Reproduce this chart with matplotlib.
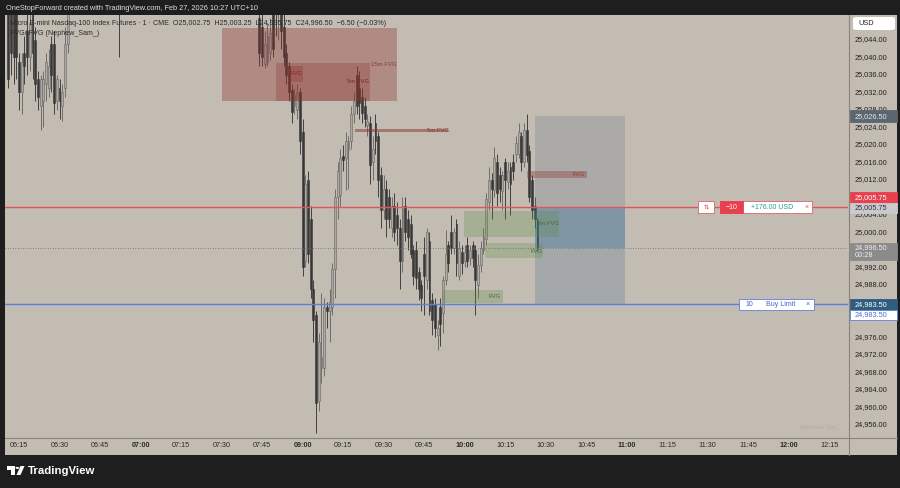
import numpy as np
import matplotlib
matplotlib.use("Agg")
import matplotlib.pyplot as plt
from matplotlib.patches import Rectangle, Polygon, Circle, FancyBboxPatch
from matplotlib.lines import Line2D

plt.rcParams['font.family'] = ['Liberation Sans', 'DejaVu Sans']

# ---------------- data (1-minute OHLC, MNQ) ----------------
first_bar_index = -4          # first bar is 06:11 (index 0 = 06:15)
seg_early = [
    (25058, 25062, 25033, 25035), (25052, 25056, 25036, 25041), (25055, 25058, 25034, 25040),
    (25050, 25054, 25035, 25040), (25039, 25041, 25028, 25032), (25032, 25041, 25027, 25039),
    (25041, 25045, 25034, 25038), (25046, 25050, 25036, 25040), (25040, 25055, 25037, 25048),
    (25051, 25056, 25035, 25041), (25044, 25047, 25030, 25034), (25035, 25037, 25028, 25031),
    (25029, 25036, 25023.5, 25035), (25030, 25037, 25024, 25035), (25034, 25041, 25030, 25039),
    (25033, 25042, 25031, 25038), (25043, 25045, 25032, 25036), (25043, 25046, 25027, 25029.5),
    (25030, 25036, 25028, 25035), (25033, 25035, 25026, 25030), (25029, 25034, 25025.5, 25032),
    (25033, 25047, 25031, 25043), (25043, 25056, 25041, 25052),
]
seg_high1 = [
    (25054, 25060, 25051, 25058), (25058, 25063, 25055, 25061), (25061, 25064, 25056, 25057),
    (25057, 25060, 25052, 25055), (25055, 25062, 25054, 25060), (25060, 25066, 25058, 25064),
    (25064, 25067, 25059, 25061), (25061, 25063, 25056, 25058), (25058, 25061, 25053, 25055),
    (25055, 25059, 25052, 25057), (25057, 25064, 25056, 25062), (25062, 25065, 25057, 25059),
    (25059, 25062, 25054, 25056), (25056, 25060, 25053, 25058), (25058, 25063, 25057, 25061),
    (25061, 25066, 25058, 25063), (25063, 25065, 25058, 25060), (25060, 25062, 25055, 25058),
    (25058, 25062, 25040, 25051),
]
seg_high2 = [
    (25052, 25057, 25051, 25056), (25056, 25061, 25054, 25059), (25059, 25063, 25057, 25062),
    (25062, 25066, 25059, 25060), (25060, 25064, 25058, 25063), (25063, 25068, 25061, 25066),
    (25066, 25069, 25062, 25064), (25064, 25067, 25060, 25061), (25061, 25065, 25059, 25064),
    (25064, 25070, 25063, 25068), (25068, 25072, 25065, 25067), (25067, 25071, 25064, 25070),
    (25070, 25074, 25067, 25069), (25069, 25072, 25065, 25066), (25066, 25069, 25062, 25064),
    (25064, 25068, 25061, 25067), (25067, 25070, 25063, 25065), (25065, 25068, 25061, 25062),
    (25062, 25066, 25059, 25065), (25065, 25069, 25063, 25068), (25068, 25071, 25064, 25066),
    (25066, 25068, 25061, 25063), (25063, 25067, 25060, 25066), (25066, 25070, 25064, 25069),
    (25069, 25073, 25066, 25071), (25071, 25075, 25068, 25070), (25070, 25073, 25066, 25067),
    (25067, 25070, 25063, 25065), (25065, 25069, 25062, 25068), (25068, 25072, 25065, 25070),
    (25070, 25074, 25067, 25072), (25072, 25075, 25068, 25069), (25069, 25072, 25065, 25066),
    (25066, 25070, 25063, 25068), (25068, 25071, 25064, 25065), (25065, 25068, 25061, 25063),
    (25063, 25067, 25060, 25066), (25066, 25069, 25062, 25064), (25064, 25067, 25060, 25062),
    (25062, 25066, 25059, 25065), (25065, 25068, 25061, 25063), (25063, 25066, 25058, 25060),
    (25060, 25064, 25057, 25062), (25062, 25065, 25058, 25059), (25059, 25063, 25056, 25061),
    (25061, 25064, 25057, 25058), (25058, 25062, 25055, 25060), (25060, 25063, 25056, 25057),
    (25057, 25061, 25054, 25059), (25059, 25062, 25055, 25056), (25056, 25060, 25052, 25053),
]
seg_pre = [
    (25049, 25054, 25038, 25041), (25047, 25052, 25038, 25040), (25038.5, 25046, 25037.5, 25043),
    (25039, 25048, 25038, 25045), (25041, 25049, 25039.5, 25045.5), (25052, 25055, 25040, 25042),
    (25056, 25060, 25045, 25050), (25050, 25058, 25044, 25056), (25053, 25056, 25042, 25046),
    (25047, 25050, 25038, 25040), (25041, 25043, 25034, 25036), (25038, 25039, 25030, 25032),
    (25032.5, 25034, 25025, 25027.5), (25029, 25033, 25027, 25031.5), (25028, 25034, 25026, 25032),
    (25032, 25033, 25018, 25021),
]
seg_open = [
    (25023, 25026, 24990, 24992), (24993.5, 25013, 24992, 25011), (25012, 25014, 24993, 24995),
    (25003, 25006, 24985, 24987), (24987, 24989, 24975, 24980), (24981, 24982, 24954, 24961),
    (24961.5, 24977, 24959, 24975), (24969, 24986, 24965.5, 24971.5), (24969, 24985, 24967, 24983),
    (24983, 24984, 24978, 24982), (24982, 24987, 24975, 24984), (24983, 24993, 24981, 24991.5),
    (24991.5, 25010, 24985, 25008), (25008, 25016, 25003, 25014), (25008.5, 25019, 25006, 25017),
    (25017.5, 25020, 25014, 25016.5), (25017, 25023, 25009.7, 25021), (25018.8, 25022, 25010, 25021),
    (25021, 25029, 25019, 25027), (25027, 25032, 25025, 25030), (25036, 25038, 25027, 25029),
    (25033, 25037, 25026, 25029.5), (25031, 25033, 25025, 25027.3), (25029, 25031, 25024, 25026),
    (25024.5, 25027, 25022, 25025.5), (25025, 25026.5, 25011, 25015.4), (25016, 25022, 25012, 25019),
    (25025, 25027, 25018, 25021), (25022, 25023, 25008, 25012), (25013, 25015, 25001, 25005),
]
seg_mid = [
    (25005, 25013, 25003, 25010), (25010, 25012, 24999, 25003), (25008, 25010, 25001, 25003),
    (25001, 25008, 24999, 25006), (25006, 25009, 24998, 25000), (25004, 25007, 24997, 25001),
    (25001, 25003, 24987, 24993.5), (24993.5, 25008, 24991, 25006), (25006, 25008, 24998, 25000),
    (25003, 25005, 24996, 24999), (25002, 25004, 24994, 24995), (24996, 24997, 24988, 24990),
    (24996, 24998, 24987, 24989.5), (24991, 24992, 24984.5, 24987), (24988, 24989, 24982, 24985),
    (24995, 24999, 24981, 24990), (24989, 25001, 24987, 25000), (24998, 25000, 24981, 24982),
    (24984.5, 24986, 24976.5, 24979.9), (24983.5, 24985, 24976, 24978), (24976.5, 24980, 24973, 24978),
    (24983, 24985, 24974, 24979), (24981.5, 24990, 24977, 24989), (24989, 25000.5, 24988, 24995),
    (24997, 24998, 24991, 24993), (25000, 25004, 24995, 24996.5), (24996.5, 25001, 24995, 25000),
    (25002, 25003, 24990, 24993), (24990, 24998, 24989, 24996.5), (24995.5, 24997, 24990.5, 24993),
    (24993.5, 24997, 24992, 24995.5), (24997, 24999, 24992, 24993.5), (24994, 24997, 24992.5, 24996),
    (24997, 24998, 24992, 24994), (24996, 24997, 24981, 24989),
]
seg_late = [
    (24988, 24995, 24985, 24992.5), (24992.5, 24998, 24991, 24996.5), (24996, 25001, 24995, 24999),
    (24998.5, 25009, 24997, 25007.5), (25007, 25015, 25005, 25012), (25012, 25013.5, 25003, 25010),
    (25009.7, 25019.5, 25008, 25017), (25016, 25018, 25006, 25009), (25013, 25015, 25007, 25010),
    (25009.5, 25014, 25005, 25013), (25016, 25017, 25003, 25012), (25011.5, 25016, 25010, 25014),
    (25015, 25016, 25004, 25011), (25016, 25018, 25012, 25014), (25018, 25022, 25016, 25020.5),
    (25018, 25025, 25017, 25023), (25022, 25023, 25014, 25016), (25016, 25025, 25015, 25023.5),
    (25023.5, 25027, 25016, 25017.7), (25018.5, 25020, 25007, 25008), (25012, 25013, 25003, 25005),
    (25006, 25008, 25001, 25003), (25002.75, 25003.25, 24995.75, 24996.5),
]

time_labels = ["06:15", "06:30", "06:45", "07:00", "07:15", "07:30", "07:45", "09:00", "09:15",
               "09:30", "09:45", "10:00", "10:15", "10:30", "10:45", "11:00", "11:15", "11:30",
               "11:45", "12:00", "12:15"]
bold_labels = ["07:00", "09:00", "10:00", "11:00", "12:00"]
# ticks that are not hidden behind the price tags
price_ticks = [25044, 25040, 25036, 25032, 25028, 25024, 25020, 25016, 25012, 25004,
               25000, 24992, 24988, 24976, 24972, 24968, 24964, 24960, 24956]

# zones: (start bar, end bar, top price, bottom price)
fvg_15m = (75.2, 140.0, 25046.7, 25030.0)
fvg_5m_red = (95.2, 130.0, 25038.7, 25030.0)
fvg_1m_red = (100.0, 105.2, 25038.0, 25034.4)
fvg_5m_thin = (124.4, 159.0, 25023.7, 25022.9)
fvg_1m_red2 = (188.1, 210.4, 25014.0, 25012.4)
fvg_5m_green = (164.8, 200.0, 25004.9, 24998.9)
fvg_1m_green1 = (172.6, 194.1, 24997.5, 24994.1)
fvg_1m_green2 = (157.0, 179.3, 24986.8, 24983.8)
pos_box = (191.1, 224.4)
target_price = 25026.50
short_price = 25005.75
last_price = 24996.50
limit_price = 24983.50

# ---------------- figure ----------------
W, H = 900, 488
fig = plt.figure(figsize=(9, 4.88), dpi=100)
fig.patch.set_facecolor('#1e1e1e')
BG = '#c3bcb2'

def fx(x):
    return x / W

def fy(y):
    return 1 - y / H

fig.add_artist(Rectangle((fx(5), fy(455)), (897 - 5) / W, (455 - 15) / H,
                         transform=fig.transFigure, facecolor=BG, edgecolor='none', zorder=0))

ax = fig.add_axes([fx(5), fy(437), (848 - 5) / W, (437 - 15) / H])
ax.set_facecolor(BG)
ax.set_xlim(-5.2, 307)
ax.set_ylim(24953.15, 25049.72)
for s in ax.spines.values():
    s.set_visible(False)
ax.set_xticks([])
ax.set_yticks([])

# separators
fig.add_artist(Line2D([fx(848.5), fx(848.5)], [fy(15), fy(455)], transform=fig.transFigure,
                      color='#8a847d', lw=0.8, zorder=5))
fig.add_artist(Line2D([fx(5), fx(897)], [fy(437.5), fy(437.5)], transform=fig.transFigure,
                      color='#8a847d', lw=0.8, zorder=5))

# candles
bars = np.array(seg_early + seg_high1 + seg_high2 + seg_pre + seg_open + seg_mid + seg_late, float)
o, h, l, c = bars.T
xs = np.arange(len(bars)) + first_bar_index
up = c >= o
bot = np.minimum(o, c)
hgt = np.maximum(np.abs(c - o), 0.3)
ax.vlines(xs[up], l[up], h[up], color='#6a6866', lw=0.65, zorder=3)
ax.vlines(xs[~up], l[~up], h[~up], color='#383838', lw=0.65, zorder=3)
ax.bar(xs[up], hgt[up], bottom=bot[up], width=0.7, color='#aca8a4', edgecolor='#666462',
       linewidth=0.4, zorder=4)
ax.bar(xs[~up], hgt[~up], bottom=bot[~up], width=0.7, color='#383838', edgecolor='#383838',
       linewidth=0.4, zorder=4)

RED = '#8c322d'
GRN = '#5a8c46'

def zone(z, color, alpha, zo=5):
    x0, x1, top, btm = z
    ax.add_patch(Rectangle((x0, btm), x1 - x0, top - btm, facecolor=color, alpha=alpha,
                           edgecolor='none', zorder=zo))

# position tool
ax.add_patch(Rectangle((pos_box[0], short_price), pos_box[1] - pos_box[0], target_price - short_price,
                       facecolor='#808a96', alpha=0.35, edgecolor='none', zorder=5))
ax.add_patch(Rectangle((pos_box[0], last_price), pos_box[1] - pos_box[0], short_price - last_price,
                       facecolor='#286496', alpha=0.43, edgecolor='none', zorder=5))
ax.add_patch(Rectangle((pos_box[0], limit_price), pos_box[1] - pos_box[0], last_price - limit_price,
                       facecolor='#788ca0', alpha=0.4, edgecolor='none', zorder=5))

zone(fvg_15m, RED, 0.35)
zone(fvg_5m_red, RED, 0.3)
zone(fvg_1m_red, RED, 0.3)
zone(fvg_5m_thin, RED, 0.5)
zone(fvg_1m_red2, RED, 0.35)
zone(fvg_5m_green, GRN, 0.27)
zone(fvg_1m_green1, GRN, 0.27)
zone(fvg_1m_green2, GRN, 0.27)

lab_kw = dict(fontsize=4.3, va='center', zorder=7)
ax.text(130.4, 25038.4, "15m FVG", color='#8a3a36', ha='left', **lab_kw)
ax.text(121.5, 25034.4, "5m FVG", color='#7a2a28', ha='left', **lab_kw)
ax.text(100.4, 25036.4, "FVG", color='#7a2a28', ha='left', **lab_kw)
ax.text(151.1, 25023.3, "5m FVG", color='#8a3a36', ha='left', **lab_kw)
ax.text(204.8, 25013.3, "FVG", color='#8a3a36', ha='left', **lab_kw)
ax.text(191.9, 25001.9, "5m FVG", color='#3f6a35', ha='left', **lab_kw)
ax.text(189.3, 24995.7, "FVG", color='#3f6a35', ha='left', **lab_kw)
ax.text(173.7, 24985.2, "FVG", color='#3f6a35', ha='left', **lab_kw)

# horizontal lines
ax.axhline(short_price, color='#e4545e', lw=1.0, zorder=6)
ax.axhline(limit_price, color='#5b80d8', lw=1.0, zorder=6)
ax.axhline(last_price, color='#6a6a6a', lw=0.6, ls=(0, (1, 2)), zorder=6)

# order labels on the lines
hh = 1.3
ax.add_patch(Rectangle((251.5, short_price - hh), 5.9, 2 * hh, facecolor='white', edgecolor='#e0626a',
                       lw=0.6, zorder=8))
ax.text(254.45, short_price, "⇅", family=['DejaVu Sans'], fontsize=4.5, color='#c84050',
        ha='center', va='center', zorder=9)
ax.add_patch(Rectangle((259.6, short_price - hh), 34.1, 2 * hh, facecolor='white', edgecolor='#e0626a',
                       lw=0.6, zorder=8))
ax.add_patch(Rectangle((259.6, short_price - hh), 8.5, 2 * hh, facecolor='#e8404e', edgecolor='#e8404e',
                       lw=0.6, zorder=8))
ax.text(263.85, short_price, "\u221210", fontsize=5, color='white', ha='center', va='center', zorder=9)
ax.text(279.0, short_price, "+176.00 USD", fontsize=5, color='#239a92', ha='center', va='center', zorder=9)
ax.text(291.6, short_price, "×", fontsize=5, color='#e0505a', ha='center', va='center', zorder=9)

ax.add_patch(Rectangle((266.7, limit_price - hh), 27.7, 2 * hh, facecolor='white', edgecolor='#5b80d8',
                       lw=0.6, zorder=8))
ax.text(270.3, limit_price, "10", fontsize=5, color='#3d63c9', ha='center', va='center', zorder=9)
ax.text(281.9, limit_price, "Buy Limit", fontsize=5, color='#3d63c9', ha='center', va='center', zorder=9)
ax.text(292.2, limit_price, "×", fontsize=5, color='#3d63c9', ha='center', va='center', zorder=9)

# watermark
ax.text(289, 24955.4, "@Nephew_Sam_", fontsize=3.8, color='#b2aca4', ha='left', va='center', zorder=2)

# legend texts
ax.text(0.006, 0.981, "Micro E-mini Nasdaq-100 Index Futures · 1 · CME  O25,002.75  H25,003.25  "
        "L24,995.75  C24,996.50  \u22126.50 (\u22120.03%)", transform=ax.transAxes, fontsize=5.1,
        color='#2a2a2a', ha='left', va='center', zorder=10)
ax.text(0.006, 0.957, "FVG/IFVG (Nephew_Sam_)", transform=ax.transAxes, fontsize=5.1,
        color='#2a2a2a', ha='left', va='center', zorder=10)

# price scale
ytr = ax.get_yaxis_transform()
def axfrac(xp):
    return (xp - 5) / 843.0

for p in price_ticks:
    ax.text(axfrac(855), p, f"{p:,.2f}", transform=ytr, fontsize=5.3, color='#222222',
            ha='left', va='center', clip_on=False, zorder=10)

def tag(center, half, text, fc, tc, ec=None):
    ax.add_patch(Rectangle((axfrac(849.5), center - half), axfrac(897) - axfrac(849.5), 2 * half,
                           transform=ytr, facecolor=fc, edgecolor=ec if ec else fc, lw=0.6,
                           clip_on=False, zorder=11))
    ax.text(axfrac(855), center, text, transform=ytr, fontsize=5.3, color=tc, ha='left',
            va='center', clip_on=False, zorder=12, linespacing=1.05)

tag(target_price, 1.37, "25,026.50", '#5c6670', '#e8e8e8')
tag(25007.9, 1.4, "25,005.75", '#e8404e', 'white')
tag(25005.6, 1.15, "25,005.75", '#c9cbd0', '#333333')
tag(24995.6, 1.95, "24,996.50\n00:28", '#8b8b8b', '#eeeeee')
tag(limit_price, 1.25, "24,983.50", '#2e5d7f', 'white')
tag(24981.1, 1.15, "24,983.50", 'white', '#4a6fd0', ec='#5b80d8')

fig.add_artist(FancyBboxPatch((fx(853), fy(30)), (895 - 853) / W, 13 / H,
                              boxstyle="round,pad=0,rounding_size=0.004",
                              transform=fig.transFigure, facecolor='white', edgecolor='none', zorder=10))
fig.text(fx(858), fy(23.5), "USD", fontsize=5.3, color='#222222', ha='left', va='center', zorder=11)

# time scale
xtr = ax.get_xaxis_transform()
for k, lab in enumerate(time_labels):
    ax.text(k * 15, -0.0213, lab, transform=xtr, fontsize=5.2, color='#2a2a2a', ha='center',
            va='center', fontweight='bold' if lab in bold_labels else 'normal', clip_on=False)

# header
fig.text(fx(6), fy(8), "OneStopForward created with TradingView.com, Feb 27, 2026 10:27 UTC+10",
         fontsize=5.3, color='#dedede', ha='left', va='center')

# TradingView logo
def P(x, y):
    return (fx(x), fy(y))
fig.add_artist(Polygon([P(7, 466), P(15, 466), P(15, 475), P(11, 475), P(11, 469.5), P(7, 469.5)],
                       closed=True, transform=fig.transFigure, facecolor='white', edgecolor='none'))
fig.add_artist(Circle(P(17.3, 467.9), 1.9 / W, transform=fig.transFigure, facecolor='white',
                      edgecolor='none'))
fig.add_artist(Polygon([P(20.5, 466), P(24.5, 466), P(20.5, 475), P(16.5, 475)], closed=True,
                       transform=fig.transFigure, facecolor='white', edgecolor='none'))
fig.text(fx(28), fy(470.5), "TradingView", fontsize=8.2, fontweight='bold', color='white',
         ha='left', va='center')

fig.savefig("out.png", dpi=100, facecolor=fig.get_facecolor())
